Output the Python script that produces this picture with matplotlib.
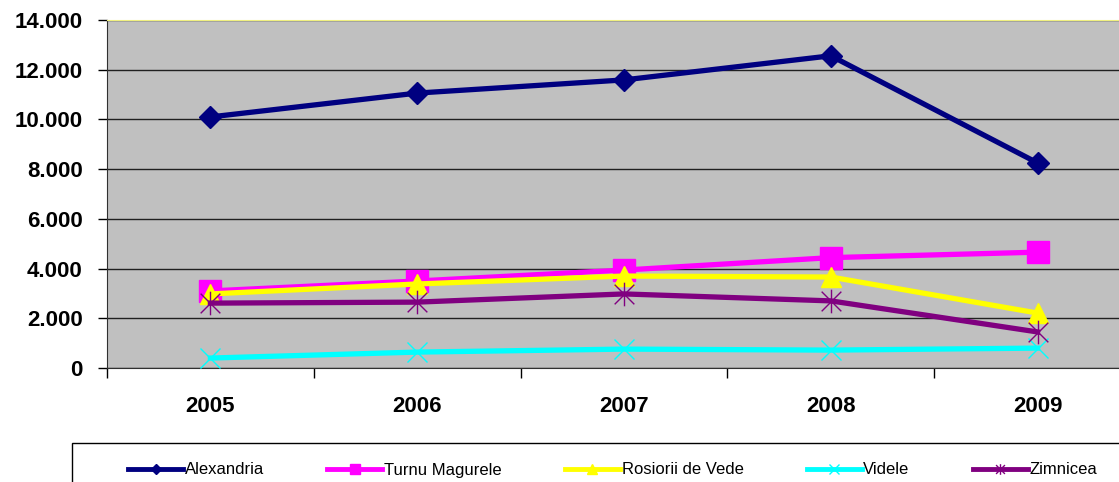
import matplotlib
matplotlib.use("Agg")
import matplotlib.pyplot as plt
from matplotlib.lines import Line2D
from matplotlib.patches import Rectangle
from matplotlib.path import Path
from matplotlib.ticker import FuncFormatter

plt.rcParams["font.family"] = ["Liberation Sans", "DejaVu Sans"]

years = ["2005", "2006", "2007", "2008", "2009"]
alexandria = [10100, 11060, 11590, 12560, 8250]
turnu_magurele = [3100, 3500, 3940, 4440, 4660]
rosiorii_de_vede = [2980, 3380, 3700, 3660, 2210]
videle = [400, 640, 760, 720, 800]
zimnicea = [2610, 2650, 2980, 2700, 1450]

series_names = ["Alexandria", "Turnu Magurele", "Rosiorii de Vede", "Videle", "Zimnicea"]
y_ticks = [0, 2000, 4000, 6000, 8000, 10000, 12000, 14000]

# excel style star: x plus a vertical bar
star = Path([(-0.5, -0.5), (0.5, 0.5), (-0.5, 0.5), (0.5, -0.5), (0, -0.6), (0, 0.6)],
            [Path.MOVETO, Path.LINETO, Path.MOVETO, Path.LINETO, Path.MOVETO, Path.LINETO])

styles = [
    dict(color="#000080", marker="D", ms=11),
    dict(color="#FF00FF", marker="s", ms=16),
    dict(color="#FFFF00", marker="^", ms=15),
    dict(color="#00FFFF", marker="x", ms=15),
    dict(color="#800080", marker=star, ms=17),
]
data = [alexandria, turnu_magurele, rosiorii_de_vede, videle, zimnicea]

W, H = 1119, 482
fig = plt.figure(figsize=(W / 100, H / 100), dpi=100)
ax = fig.add_axes([107 / W, 1 - 368 / H, (1141 - 107) / W, (368 - 20) / H])
ax.set_facecolor("#C0C0C0")

x = list(range(len(years)))
for vals, st in zip(data, styles):
    ax.plot(x, vals, "-", color=st["color"], lw=3.8, marker=st["marker"],
            ms=st["ms"], mew=1, mec=st["color"], mfc=st["color"], zorder=3)

ax.set_xlim(-0.5, len(years) - 0.5)
ax.set_ylim(0, 14000)
ax.set_yticks(y_ticks)
ax.yaxis.set_major_formatter(FuncFormatter(lambda v, p: f"{int(v):,}".replace(",", ".")))
ax.grid(axis="y", color="#202020", lw=1)
ax.set_axisbelow(True)

ax.set_xticks(x)
ax.set_xticklabels(years)
ax.set_xticks([i + 0.5 for i in range(-1, len(years))], minor=True)
ax.tick_params(axis="x", which="major", length=0, pad=20)
ax.tick_params(axis="x", which="minor", length=7, width=1, direction="out")
ax.tick_params(axis="y", length=6.5, width=1, pad=11)
for lab in ax.get_xticklabels() + ax.get_yticklabels():
    lab.set_fontsize(16)
    lab.set_fontweight("bold")

ax.spines["right"].set_visible(False)
ax.spines["top"].set_color("#F0F080")
ax.spines["left"].set_color("#303030")
ax.spines["bottom"].set_color("#303030")

# legend box runs off the right and bottom edge of the picture
fig.add_artist(Rectangle((72 / W, -0.1), (1200 - 72) / W, 0.1 + 1 - 443 / H,
                         transform=fig.transFigure, fill=False, ec="black", lw=1))
handles = [Line2D([], [], color=st["color"], lw=3.5, marker=st["marker"],
                  ms=st["ms"] * 0.45, mew=1, mec=st["color"], mfc=st["color"])
           for st in styles]
fig.legend(handles, series_names, loc="center left", ncol=5,
           bbox_to_anchor=(128 / W, 1 - 470 / H), fontsize=12, frameon=False,
           handlelength=3.3, handletextpad=0.1, columnspacing=3.8,
           borderpad=0, borderaxespad=0)

fig.savefig("out.png", dpi=100)
